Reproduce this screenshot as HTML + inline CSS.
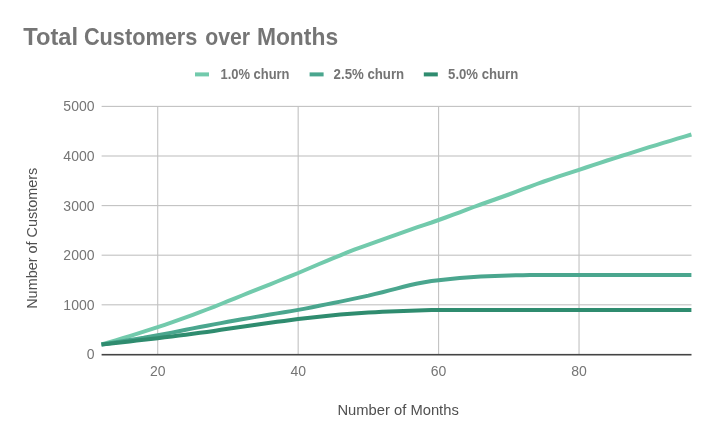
<!DOCTYPE html>
<html><head><meta charset="utf-8"><title>Total Customers over Months</title>
<style>
html,body{margin:0;padding:0;background:#fff;}
svg{display:block;filter:blur(0.3px);font-family:"Liberation Sans",sans-serif;}
.tick{font-size:14px;fill:#757575;}
.leg{font-size:14px;font-weight:bold;fill:#757575;}
.axt{font-size:14px;fill:#505050;}
.title{font-size:23.2px;font-weight:bold;fill:#757575;}
</style></head><body>
<svg width="714" height="441" viewBox="0 0 714 441">
<rect width="714" height="441" fill="#ffffff"/>
<text y="44.7" class="title"><tspan x="23.3" textLength="54.8" lengthAdjust="spacingAndGlyphs">Total</tspan> <tspan x="83.9" textLength="113.4" lengthAdjust="spacingAndGlyphs">Customers</tspan> <tspan x="205.2" textLength="44.8" lengthAdjust="spacingAndGlyphs">over</tspan> <tspan x="256.9" textLength="81.2" lengthAdjust="spacingAndGlyphs">Months</tspan></text>
<rect x="195" y="72.4" width="14" height="4" fill="#72caac"/>
<text x="220.5" y="79.4" class="leg" textLength="69" lengthAdjust="spacingAndGlyphs">1.0% churn</text>
<rect x="309.6" y="72.4" width="14" height="4" fill="#4aa68e"/>
<text x="333.6" y="79.4" class="leg" textLength="70.6" lengthAdjust="spacingAndGlyphs">2.5% churn</text>
<rect x="423.8" y="72.4" width="14" height="4" fill="#2f8c6f"/>
<text x="448.1" y="79.4" class="leg" textLength="70.1" lengthAdjust="spacingAndGlyphs">5.0% churn</text>
<rect x="101.6" y="304.25" width="589.9" height="1.1" fill="#c2c2c2"/><rect x="101.6" y="254.65" width="589.9" height="1.1" fill="#c2c2c2"/><rect x="101.6" y="205.05" width="589.9" height="1.1" fill="#c2c2c2"/><rect x="101.6" y="155.45" width="589.9" height="1.1" fill="#c2c2c2"/><rect x="101.6" y="105.85" width="589.9" height="1.1" fill="#c2c2c2"/>
<rect x="157.17" y="106" width="1.1" height="248.5" fill="#c2c2c2"/><rect x="297.61" y="106" width="1.1" height="248.5" fill="#c2c2c2"/><rect x="438.04" y="106" width="1.1" height="248.5" fill="#c2c2c2"/><rect x="578.48" y="106" width="1.1" height="248.5" fill="#c2c2c2"/>
<rect x="101.6" y="353.9" width="589.9" height="1.6" fill="#444444"/>
<g fill="none" stroke-width="4" stroke-linecap="butt" stroke-linejoin="round">
<path d="M101.5,344.4 L108.6,342.4 L115.6,340.3 L122.6,338.2 L129.6,336.1 L136.7,333.9 L143.7,331.7 L150.7,329.4 L157.7,327.1 L164.7,324.8 L171.8,322.4 L178.8,319.9 L185.8,317.4 L192.8,314.8 L199.9,312.2 L206.9,309.5 L213.9,306.8 L220.9,304.0 L227.9,301.2 L235.0,298.3 L242.0,295.5 L249.0,292.7 L256.0,289.9 L263.0,287.1 L270.1,284.3 L277.1,281.5 L284.1,278.7 L291.1,275.8 L298.2,273.0 L305.2,270.0 L312.2,267.0 L319.2,264.0 L326.2,261.1 L333.3,258.2 L340.3,255.3 L347.3,252.4 L354.3,249.7 L361.4,247.1 L368.4,244.6 L375.4,242.1 L382.4,239.6 L389.4,237.1 L396.5,234.6 L403.5,232.1 L410.5,229.6 L417.5,227.2 L424.5,224.8 L431.6,222.5 L438.6,220.0 L445.6,217.5 L452.6,214.9 L459.7,212.3 L466.7,209.6 L473.7,207.0 L480.7,204.5 L487.7,202.0 L494.8,199.5 L501.8,197.0 L508.8,194.5 L515.8,191.9 L522.9,189.2 L529.9,186.6 L536.9,184.0 L543.9,181.5 L550.9,179.1 L558.0,176.7 L565.0,174.4 L572.0,172.1 L579.0,169.8 L586.0,167.5 L593.1,165.1 L600.1,162.8 L607.1,160.5 L614.1,158.3 L621.2,156.0 L628.2,153.8 L635.2,151.6 L642.2,149.4 L649.2,147.2 L656.3,145.1 L663.3,142.9 L670.3,140.8 L677.3,138.7 L684.4,136.6 L691.4,134.5" stroke="#72caac"/>
<path d="M101.5,344.4 L108.6,343.4 L115.6,342.3 L122.6,341.2 L129.6,340.1 L136.7,338.9 L143.7,337.8 L150.7,336.5 L157.7,335.3 L164.7,334.0 L171.8,332.6 L178.8,331.2 L185.8,329.8 L192.8,328.4 L199.9,327.0 L206.9,325.7 L213.9,324.4 L220.9,323.1 L227.9,321.8 L235.0,320.5 L242.0,319.3 L249.0,318.1 L256.0,316.9 L263.0,315.7 L270.1,314.6 L277.1,313.4 L284.1,312.3 L291.1,311.1 L298.2,309.9 L305.2,308.6 L312.2,307.2 L319.2,305.8 L326.2,304.4 L333.3,303.0 L340.3,301.6 L347.3,300.1 L354.3,298.6 L361.4,297.1 L368.4,295.6 L375.4,293.9 L382.4,292.2 L389.4,290.4 L396.5,288.6 L403.5,286.8 L410.5,285.0 L417.5,283.5 L424.5,282.2 L431.6,281.1 L438.6,280.2 L445.6,279.4 L452.6,278.7 L459.7,278.0 L466.7,277.5 L473.7,276.9 L480.7,276.5 L487.7,276.2 L494.8,275.9 L501.8,275.7 L508.8,275.5 L515.8,275.3 L522.9,275.2 L529.9,275.0 L536.9,274.9 L543.9,274.9 L550.9,275.0 L558.0,275.0 L565.0,275.1 L572.0,275.1 L579.0,275.1 L586.0,275.1 L593.1,275.1 L600.1,275.1 L607.1,275.1 L614.1,275.1 L621.2,275.1 L628.2,275.1 L635.2,275.1 L642.2,275.1 L649.2,275.1 L656.3,275.1 L663.3,275.1 L670.3,275.1 L677.3,275.1 L684.4,275.1 L691.4,275.1" stroke="#4aa68e"/>
<path d="M101.5,344.4 L108.6,343.7 L115.6,342.9 L122.6,342.2 L129.6,341.4 L136.7,340.6 L143.7,339.8 L150.7,339.0 L157.7,338.2 L164.7,337.3 L171.8,336.5 L178.8,335.6 L185.8,334.7 L192.8,333.8 L199.9,332.8 L206.9,331.9 L213.9,330.9 L220.9,329.8 L227.9,328.8 L235.0,327.8 L242.0,326.8 L249.0,325.8 L256.0,324.8 L263.0,323.8 L270.1,322.8 L277.1,321.8 L284.1,320.9 L291.1,319.9 L298.2,319.1 L305.2,318.3 L312.2,317.5 L319.2,316.7 L326.2,315.9 L333.3,315.2 L340.3,314.6 L347.3,314.0 L354.3,313.5 L361.4,313.0 L368.4,312.6 L375.4,312.2 L382.4,311.8 L389.4,311.5 L396.5,311.2 L403.5,310.9 L410.5,310.7 L417.5,310.4 L424.5,310.2 L431.6,310.1 L438.6,310.0 L445.6,310.0 L452.6,310.0 L459.7,310.0 L466.7,310.0 L473.7,310.0 L480.7,310.0 L487.7,310.0 L494.8,310.0 L501.8,310.0 L508.8,310.0 L515.8,310.0 L522.9,310.0 L529.9,310.0 L536.9,310.0 L543.9,310.0 L550.9,310.0 L558.0,310.0 L565.0,310.0 L572.0,310.0 L579.0,310.0 L586.0,310.0 L593.1,310.0 L600.1,310.0 L607.1,310.0 L614.1,310.0 L621.2,310.0 L628.2,310.0 L635.2,310.0 L642.2,310.0 L649.2,310.0 L656.3,310.0 L663.3,310.0 L670.3,310.0 L677.3,310.0 L684.4,310.0 L691.4,310.0" stroke="#2f8c6f"/>
</g>
<text x="94.5" y="359.3" text-anchor="end" class="tick">0</text><text x="94.5" y="309.7" text-anchor="end" class="tick">1000</text><text x="94.5" y="260.1" text-anchor="end" class="tick">2000</text><text x="94.5" y="210.5" text-anchor="end" class="tick">3000</text><text x="94.5" y="160.9" text-anchor="end" class="tick">4000</text><text x="94.5" y="111.3" text-anchor="end" class="tick">5000</text>
<text x="157.7" y="375.8" text-anchor="middle" class="tick">20</text><text x="298.2" y="375.8" text-anchor="middle" class="tick">40</text><text x="438.6" y="375.8" text-anchor="middle" class="tick">60</text><text x="579.0" y="375.8" text-anchor="middle" class="tick">80</text>
<text x="337.4" y="414.7" textLength="121.4" lengthAdjust="spacingAndGlyphs" class="axt">Number of Months</text>
<text transform="translate(36.8,308.8) rotate(-90)" textLength="141" lengthAdjust="spacingAndGlyphs" class="axt">Number of Customers</text>
</svg>
</body></html>
